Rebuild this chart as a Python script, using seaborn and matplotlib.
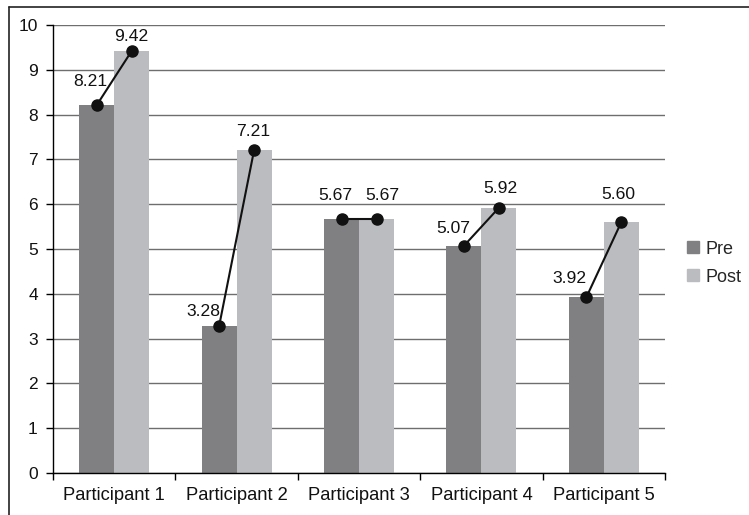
import matplotlib
matplotlib.use("Agg")
import matplotlib.pyplot as plt
import seaborn as sns
import pandas as pd
import numpy as np
from matplotlib.lines import Line2D

participants = ["Participant 1", "Participant 2", "Participant 3", "Participant 4", "Participant 5"]
pre_scores = [8.21, 3.28, 5.67, 5.07, 3.92]
post_scores = [9.42, 7.21, 5.67, 5.92, 5.60]
phases = ["Pre", "Post"]
phase_colors = ["#808083", "#bbbcbf"]
y_ticks = list(range(0, 11))

# hand-placed value label offsets (pixels: dx, height of baseline above the point)
pre_label_offsets = [(-6, 19), (-16, 10), (-6, 19), (-11, 13), (-17, 14)]
post_label_offsets = [(0, 10), (-1, 14), (6, 19), (1, 15), (-3, 23)]

df = pd.DataFrame({
    "participant": participants * 2,
    "phase": ["Pre"] * len(participants) + ["Post"] * len(participants),
    "score": pre_scores + post_scores,
})

sns.set_theme(style="white")
plt.rcParams["font.family"] = ["Liberation Sans", "DejaVu Sans"]

fig = plt.figure(figsize=(7.49, 5.15), dpi=100)
ax = fig.add_axes([0.0708, 0.0816, 0.8171, 0.870])

sns.barplot(data=df, x="participant", y="score", hue="phase",
            order=participants, hue_order=phases,
            palette=phase_colors, width=0.572, gap=0, saturation=1,
            errorbar=None, ax=ax, zorder=2, legend=False, linewidth=0)

ax.set_ylim(0, 10)
ax.set_xlim(-0.5, len(participants) - 0.5)
ax.set_yticks(y_ticks)
ax.yaxis.grid(True, color="#6e6e6e", linewidth=1.0, zorder=0)
ax.set_axisbelow(True)
ax.set_xlabel("")
ax.set_ylabel("")

for side in ["top", "right"]:
    ax.spines[side].set_visible(False)
for side in ["left", "bottom"]:
    ax.spines[side].set_color("black")
    ax.spines[side].set_linewidth(1.0)

ax.tick_params(axis="y", direction="out", length=5, width=1, color="black",
               labelsize=12.5, pad=6, left=True, labelcolor="#111111")
ax.tick_params(axis="x", which="major", length=0, labelsize=13.2, pad=10,
               labelcolor="#111111")
ax.set_xticks(np.arange(-0.5, len(participants), 1.0), minor=True)
ax.tick_params(axis="x", which="minor", direction="out", length=5, width=1,
               color="black", bottom=True)

# bar centres for each phase, taken from the drawn bars
n = len(participants)
bars = ax.patches
pre_x = [b.get_x() + b.get_width() / 2 for b in bars[:n]]
post_x = [b.get_x() + b.get_width() / 2 for b in bars[n:2 * n]]

for i in range(n):
    ax.plot([pre_x[i], post_x[i]], [pre_scores[i], post_scores[i]],
            color="#111111", linewidth=1.5, marker="o", markersize=8,
            markerfacecolor="#111111", markeredgecolor="#111111", zorder=4,
            clip_on=False)
    ax.annotate(f"{pre_scores[i]:.2f}", (pre_x[i], pre_scores[i]),
                xytext=pre_label_offsets[i], textcoords="offset pixels",
                ha="center", va="baseline", fontsize=12.6, color="#111111")
    ax.annotate(f"{post_scores[i]:.2f}", (post_x[i], post_scores[i]),
                xytext=post_label_offsets[i], textcoords="offset pixels",
                ha="center", va="baseline", fontsize=12.6, color="#111111")

handles = [Line2D([0], [0], marker="s", linestyle="", markersize=8.5,
                  markerfacecolor=c, markeredgecolor=c) for c in phase_colors]
fig.legend(handles, phases, loc="center left", bbox_to_anchor=(0.902, 0.489),
           frameon=False, fontsize=13, handletextpad=0.25, labelspacing=0.6,
           handlelength=0.9, borderpad=0)

# frame along the left and top edges of the figure
fig.add_artist(Line2D([0.012, 0.012], [0.0, 0.986], transform=fig.transFigure,
                      color="#222222", linewidth=1.2))
fig.add_artist(Line2D([0.012, 1.0], [0.986, 0.986], transform=fig.transFigure,
                      color="#222222", linewidth=1.2))

fig.savefig("out.png", dpi=100)
